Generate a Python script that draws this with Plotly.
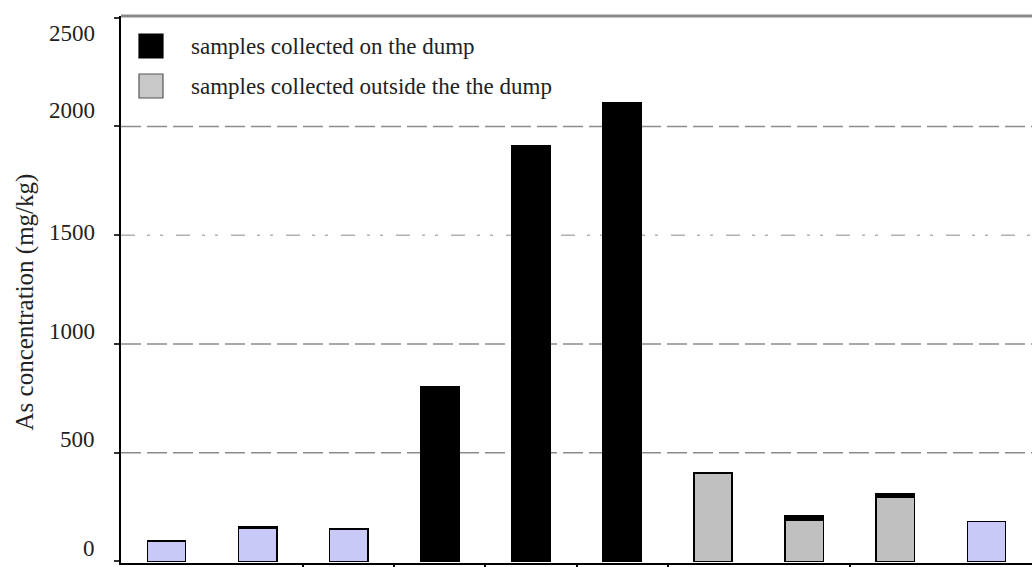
import plotly.graph_objects as go

# Sample positions along the transect (10 sampling points)
positions = list(range(10))

# As concentration (mg/kg) by sample group
outside_light = [95, 152, 149, None, None, None, None, None, None, 184]   # outside the dump (light fill)
outside_grey = [None, None, None, None, None, None, 408, 192, 296, None]  # outside the dump (grey fill)
on_dump = [None, 9, None, 802, 1910, 2108, None, 18, 14, None]            # on the dump

y_ticks = [0, 500, 1000, 1500, 2000, 2500]
y_tick_text = ["0", "500", "1000", "1500", "2000", "2500"]
y_label_nudge = [13, 13, 12, 3, 16, -16]   # pixel nudges for each value label
group_breaks = [1.5, 2.5, 3.5, 4.5, 5.5, 7.5]

legend_labels = ["samples collected on the dump", "samples collected outside the the dump"]

SERIF = "Liberation Serif, Times New Roman, serif"

fig = go.Figure()
fig.add_trace(go.Bar(x=positions, y=outside_light, marker=dict(color="#c9c9f7", line=dict(color="#000", width=1.6)),
                     width=0.42, showlegend=False))
fig.add_trace(go.Bar(x=positions, y=outside_grey, marker=dict(color="#c0c0c0", line=dict(color="#000", width=1.6)),
                     width=0.42, showlegend=False))
fig.add_trace(go.Bar(x=positions, y=on_dump, marker=dict(color="#000", line=dict(color="#000", width=1.6)),
                     width=0.42, showlegend=False))

shapes = []
# horizontal reference lines
for v in [500, 1000, 2000]:
    shapes.append(dict(type="line", xref="paper", x0=0, x1=1, yref="y", y0=v, y1=v, layer="below",
                       line=dict(color="#8c8c8c", width=1.6, dash="20px,6px")))
shapes.append(dict(type="line", xref="paper", x0=0, x1=1, yref="y", y0=1500, y1=1500, layer="below",
                   line=dict(color="#b0b0b0", width=1.6, dash="14px,12px,3px,10px,3px,13px")))
# top frame
shapes.append(dict(type="line", xref="paper", x0=0, x1=1, yref="paper", y0=1, y1=1,
                   line=dict(color="#8a8a8a", width=3)))

annotations = []

# value labels on the vertical axis
for v, txt, nudge in zip(y_ticks, y_tick_text, y_label_nudge):
    annotations.append(dict(text=txt, xref="paper", x=0, xanchor="right", xshift=-24,
                            yref="y", y=v, yanchor="middle", yshift=nudge, showarrow=False,
                            font=dict(family=SERIF, size=23, color="#222")))

# axis title
annotations.append(dict(text="As concentration (mg/kg)", xref="paper", x=0, xshift=-97, xanchor="center",
                        yref="paper", y=0.5, yshift=-13, yanchor="middle", textangle=-90, showarrow=False,
                        font=dict(family=SERIF, size=25, color="#222")))

# legend swatches and labels
swatch_colors = ["#000000", "#c8c8c8"]
swatch_lines = ["#000000", "#555555"]
for i, (lab, col, lc) in enumerate(zip(legend_labels, swatch_colors, swatch_lines)):
    y_top = 1 - (18 + 40 * i) / 547
    y_bot = 1 - (42 + 40 * i) / 547
    shapes.append(dict(type="rect", xref="paper", yref="paper", x0=18 / 911, x1=42 / 911, y0=y_bot, y1=y_top,
                       fillcolor=col, line=dict(color=lc, width=1.2)))
    annotations.append(dict(text=lab, xref="paper", yref="paper", x=68 / 911, y=(y_top + y_bot) / 2,
                            xanchor="left", yanchor="middle", showarrow=False,
                            font=dict(family=SERIF, size=23, color="#222")))

fig.update_layout(
    width=1032, height=567,
    margin=dict(l=121, r=0, t=16, b=4),
    paper_bgcolor="white", plot_bgcolor="white",
    barmode="stack",
    shapes=shapes, annotations=annotations,
    xaxis=dict(range=[-0.5, 9.5], tickvals=group_breaks, ticktext=[""] * len(group_breaks),
               ticks="outside", ticklen=5, tickwidth=1.5, tickcolor="#000",
               showgrid=False, zeroline=False, showline=True, linecolor="#000", linewidth=2,
               showticklabels=False),
    yaxis=dict(range=[-7, 2508], tickvals=y_ticks, showticklabels=False,
               ticks="outside", ticklen=5, tickwidth=1.5, tickcolor="#333",
               showgrid=False, zeroline=False, showline=True, linecolor="#000", linewidth=2),
)

fig.write_html("out.html")
